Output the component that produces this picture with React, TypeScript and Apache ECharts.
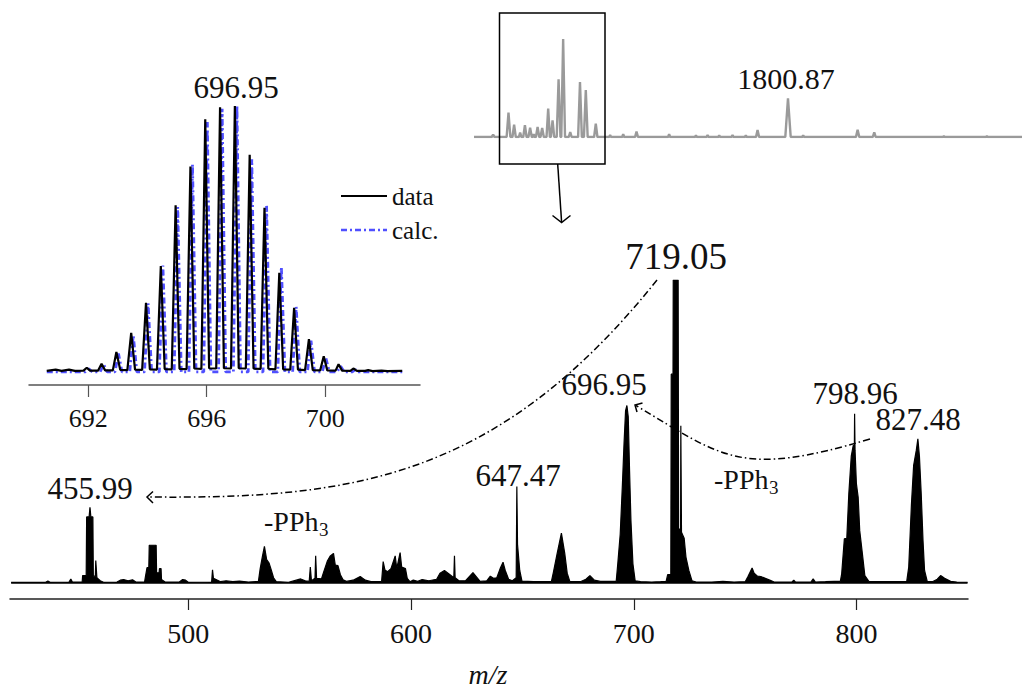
import React, { useEffect, useRef } from "react";
import * as echarts from "echarts";

// ---------- data ----------
const mainTicks = [500, 600, 700, 800];
const insetTicks = [692, 696, 700];

// main spectrum outline [m/z, relative intensity %]
const mainSpectrum: [number, number][] = [
  [420.5, 0.5], [436, 0.5], [437, 0.9], [438, 0.5], [446.5, 0.6], [447.3, 1.6], [448, 0.6],
  [452.4, 0.6], [452.6, 2.7], [454.2, 2.7], [454.4, 22], [455.5, 22], [455.9, 25.2], [456.3, 22], [457.2, 22], [457.4, 2.5], [458.3, 2.5], [458.5, 7.7], [458.8, 7.7], [459, 2], [460.5, 1], [462, 0.5],
  [468, 0.6], [469.5, 1.2], [471, 1.4], [473, 1], [475, 1.3], [476.5, 0.6],
  [480.4, 0.6], [480.7, 2], [481.5, 5.3], [482.3, 5.3], [482.5, 12.7], [485.6, 12.7], [485.8, 3.6], [486.9, 3.6], [487.1, 5], [487.8, 5], [488, 1.4], [489.6, 0.6],
  [496, 0.6], [497.5, 1.4], [498.8, 1.2], [500, 0.5],
  [510.5, 0.6], [510.9, 4.6], [511.3, 1.8], [513, 1.2], [514.5, 0.7], [517, 1], [520, 0.7], [523, 0.9], [527, 0.6],
  [531.5, 0.8], [532.3, 5], [533.3, 9], [534.2, 12.3], [535.2, 8], [536.3, 6.8], [537.3, 4.5], [538.3, 2], [539.5, 0.7],
  [545, 0.5], [548.5, 1.2], [550.5, 1.6], [552.5, 1], [554.3, 0.8], [554.8, 5.5], [555.3, 1], [556.9, 1.8], [557.2, 9.2], [557.6, 1.8],
  [559.8, 1.6], [560.7, 3.7], [562.5, 7.6], [563.8, 9.2], [565.2, 10], [566, 6.2], [567.2, 6], [568.3, 3], [569.5, 1.3], [571, 0.8],
  [574, 1.2], [577.2, 2.4], [579.5, 1.2], [582, 0.7],
  [586.8, 0.8], [587.5, 7.3], [588.3, 4.5], [589.5, 4], [591, 5], [592.9, 9.2], [593.6, 5], [595.1, 10.3], [595.8, 5.5], [597.5, 5], [598.3, 1.8], [599.5, 0.7],
  [601, 1.2], [603, 0.8], [605, 1.4], [608, 1], [611.5, 1.5], [613, 3.5], [615, 4.4], [617.5, 3], [619.2, 2], [619.5, 9.2], [619.8, 2], [621.5, 1],
  [624.5, 1], [627.8, 3.7], [631, 0.8], [634, 1], [635.6, 2.5], [637, 1.8], [638.5, 2], [640, 5], [641.3, 7.1], [642.3, 4.4], [643.8, 1.5], [645.5, 1],
  [647.2, 2], [647.5, 32], [647.8, 13], [648.8, 4.4], [649.8, 0.9], [655, 0.7], [660, 0.7], [663, 0.7],
  [663.9, 3.8], [665.6, 10], [667.5, 16.7], [669, 10], [670.1, 3.5], [671.3, 0.7], [676, 0.7], [678.5, 1.5], [680.3, 2.7], [682.3, 1.2], [685, 0.8], [688, 0.8],
  [692.1, 0.8], [692.8, 6.6], [693.9, 16.4], [694.9, 33], [695.6, 46], [696.3, 57], [696.9, 58.7], [697.5, 55], [698.1, 37], [698.7, 21], [699.6, 6.6], [700.6, 1],
  [703, 0.7], [708, 0.6], [712, 0.7], [714.5, 0.8], [715.2, 3], [716.6, 3], [716.8, 69], [717.6, 69], [717.7, 100], [719.9, 100], [720.1, 18], [721, 18], [721.1, 52], [721.3, 52], [721.4, 17], [722.6, 15], [723.4, 8.8], [724.7, 4.4], [726.1, 1],
  [728, 0.6], [735, 0.6], [740, 0.8], [745, 0.6], [750, 0.7], [751.3, 2.5], [753.1, 5.2], [754, 3.5], [755.5, 2.5], [757, 2.4], [759, 1.8], [761, 1.2], [763, 0.6],
  [771, 0.6], [771.8, 1.2], [772.5, 0.6], [779.5, 0.6], [780.5, 1.6], [781.5, 0.6], [786, 0.7], [790, 0.8],
  [792.7, 0.8], [793.3, 3.3], [794.5, 14.8], [795.6, 15], [796.5, 29.6], [797.6, 42], [798.5, 45.6], [799, 45.6], [799.1, 56], [799.3, 44], [799.9, 33], [800.7, 28.5], [801.4, 17.5], [802.6, 9.9], [803.7, 2.7], [805.5, 0.8],
  [815, 0.7], [822.5, 0.8], [823.4, 5.5], [824.6, 26], [825.6, 39], [826.8, 44], [827.5, 47.7], [828.2, 42], [829, 29.6], [829.8, 14.3], [830.5, 4.4], [831.7, 0.8], [834, 0.7], [836.2, 1.5], [837.7, 2.7], [839.5, 1.8], [842.2, 0.8], [845, 0.6], [849.8, 0.5],
];

// isotope pattern of 696.95, measured
const isoData: [number, number][] = [
  [690.6, 0.4], [690.9, 0.9], [691.1, 0.4], [691.35, 0.9], [691.55, 0.4],
  [691.84, 0.5], [691.95, 1.6], [692.06, 0.5],
  [692.33, 0.5], [692.45, 3.1], [692.57, 0.6],
  [692.83, 0.6], [692.95, 7.5], [693.08, 0.8],
  [693.32, 0.7], [693.45, 14.7], [693.58, 0.9],
  [693.82, 0.8], [693.95, 26], [694.08, 1.0],
  [694.32, 0.9], [694.45, 39.8], [694.58, 1.1],
  [694.82, 1.0], [694.95, 62.7], [695.08, 1.2],
  [695.32, 1.1], [695.45, 77.2], [695.58, 1.3],
  [695.82, 1.2], [695.95, 95], [696.08, 1.4],
  [696.32, 1.3], [696.45, 99.5], [696.58, 1.4],
  [696.82, 1.3], [696.95, 100], [697.08, 1.4],
  [697.32, 1.3], [697.45, 81.7], [697.58, 1.3],
  [697.82, 1.2], [697.95, 61.7], [698.08, 1.2],
  [698.32, 1.0], [698.45, 37.3], [698.58, 1.0],
  [698.82, 0.9], [698.95, 24.1], [699.08, 0.9],
  [699.32, 0.7], [699.45, 12.3], [699.58, 0.7],
  [699.83, 0.6], [699.95, 5.9], [700.07, 0.6],
  [700.35, 0.5], [700.45, 2.9], [700.57, 0.5],
  [700.85, 0.4], [700.95, 1.3], [701.07, 0.4],
  [701.35, 0.4], [701.45, 0.7], [701.6, 0.3],
  [701.9, 0.5], [702.1, 0.3], [702.6, 0.4],
];

// isotope pattern, calculated
const isoCalc: [number, number][] = [
  [690.6, 0], [691.9, 0], [692.02, 1.2], [692.14, 0],
  [692.4, 0], [692.52, 2.8], [692.64, 0],
  [692.9, 0], [693.02, 6.9], [693.14, 0],
  [693.4, 0], [693.52, 13.8], [693.64, 0],
  [693.9, 0], [694.02, 25.8], [694.14, 0],
  [694.4, 0], [694.52, 40], [694.64, 0],
  [694.9, 0], [695.02, 62], [695.14, 0],
  [695.4, 0], [695.52, 78], [695.64, 0],
  [695.9, 0], [696.02, 94], [696.14, 0],
  [696.4, 0], [696.52, 99], [696.64, 0],
  [696.9, 0], [697.02, 100], [697.14, 0],
  [697.4, 0], [697.52, 80], [697.64, 0],
  [697.9, 0], [698.02, 62.5], [698.14, 0],
  [698.4, 0], [698.52, 39.5], [698.64, 0],
  [698.9, 0], [699.02, 24.5], [699.14, 0],
  [699.4, 0], [699.52, 11.8], [699.64, 0],
  [699.9, 0], [700.02, 5.3], [700.14, 0],
  [700.4, 0], [700.52, 2.2], [700.64, 0],
  [700.9, 0], [701.02, 0.9], [701.14, 0],
  [702.6, 0],
];

// full-range overview spectrum (grey)
const overview: [number, number][] = [
  [290, 0], [375, 0], [382, 2.4], [389, 0],
  [447, 0], [456, 25], [465, 0],
  [475, 0], [483, 12.7], [491, 0],
  [506, 0], [512, 4.5], [518, 0],
  [527, 0], [535, 12], [543, 0],
  [552, 0], [560, 9.6], [568, 0],
  [572, 0], [577, 3], [582, 0],
  [588, 0], [596, 10.3], [604, 0],
  [610, 0], [618, 9.2], [626, 0],
  [639, 0], [647, 29], [655, 0],
  [660, 0], [668, 17], [676, 0],
  [688, 0], [697, 59], [706, 0],
  [710, 0], [719, 100], [728, 0],
  [746, 0], [753, 5], [760, 0],
  [791, 0], [800, 56], [809, 0],
  [819, 0], [828, 48], [837, 0],
  [868, 0], [876, 13.7], [884, 0],
  [940, 0], [945, 2], [950, 0],
  [1003, 0], [1008, 3], [1013, 0],
  [1065, 0], [1072, 5.5], [1079, 0],
  [1224, 0], [1229, 3], [1234, 0],
  [1353, 0], [1358, 1.5], [1363, 0],
  [1409, 0], [1414, 2], [1419, 0],
  [1465, 0], [1470, 1.5], [1475, 0],
  [1529, 0], [1534, 2], [1539, 0],
  [1593, 0], [1598, 1.5], [1603, 0],
  [1647, 0], [1654.5, 7], [1662, 0],
  [1788, 0], [1800.9, 39.4], [1814, 0],
  [1869, 0], [1874, 1.7], [1879, 0],
  [2128, 0], [2136, 7.5], [2144, 0],
  [2209, 0], [2216, 4.8], [2223, 0],
  [2546, 0], [2551, 0.8], [2556, 0],
  [2753, 0], [2758, 0.8], [2763, 0],
  [2927, 0],
];

// ---------- component ----------
const FONT = '"Liberation Serif", "DejaVu Serif", serif';
const DASHDOT = [7, 3, 1.5, 3];

function txt(text: string, x: number, y: number, size: number, align = "center", extra: any = {}) {
  return {
    type: "text",
    x,
    y,
    z: 100,
    style: {
      text,
      fontSize: size,
      fontFamily: FONT,
      fill: "#111",
      align,
      verticalAlign: "middle",
      textAlign: align,
      textVerticalAlign: "middle",
      ...extra,
    },
  };
}

export default function App() {
  const ref = useRef<HTMLDivElement>(null);

  useEffect(() => {
    if (!ref.current) return;
    const chart = echarts.init(ref.current, undefined, { renderer: "svg" });

    const option: any = {
      animation: false,
      backgroundColor: "#fff",
      grid: [
        { left: 10, right: 57, top: 280, bottom: 93 },
        { left: 29, right: 605, top: 106, bottom: 307 },
        { left: 474, right: 3, top: 39, bottom: 555 },
      ],
      xAxis: [
        {
          gridIndex: 0,
          type: "value",
          min: 420,
          max: 850,
          axisLine: { show: true, onZero: false, lineStyle: { color: "#222", width: 1.5 } },
          axisTick: { show: true, customValues: mainTicks, length: 11, lineStyle: { color: "#222", width: 1.2 } },
          axisLabel: {
            customValues: mainTicks,
            margin: 20,
            fontFamily: FONT,
            fontSize: 28,
            color: "#111",
          },
          splitLine: { show: false },
        },
        {
          gridIndex: 1,
          type: "value",
          min: 690,
          max: 703.2,
          axisLine: { show: true, onZero: false, lineStyle: { color: "#555", width: 1.5 } },
          axisTick: { show: true, customValues: insetTicks, length: 12, lineStyle: { color: "#555", width: 1.2 } },
          axisLabel: {
            customValues: insetTicks,
            margin: 20,
            fontFamily: FONT,
            fontSize: 26,
            color: "#111",
          },
          splitLine: { show: false },
        },
        {
          gridIndex: 2,
          type: "value",
          min: 290,
          max: 2927,
          show: false,
        },
      ],
      yAxis: [
        { gridIndex: 0, type: "value", min: -5, max: 100, show: false },
        { gridIndex: 1, type: "value", min: -4.9, max: 100, show: false },
        { gridIndex: 2, type: "value", min: 0, max: 100, show: false },
      ],
      series: [
        {
          name: "spectrum",
          type: "line",
          xAxisIndex: 0,
          yAxisIndex: 0,
          data: mainSpectrum,
          symbol: "none",
          lineStyle: { color: "#000", width: 1.2 },
          areaStyle: { color: "#000", opacity: 1 },
          z: 3,
        },
        {
          name: "calc.",
          type: "line",
          xAxisIndex: 1,
          yAxisIndex: 1,
          data: isoCalc,
          symbol: "none",
          lineStyle: { color: "#3030ff", width: 2.8, type: [6, 3, 2, 3], opacity: 0.85 },
          z: 2,
        },
        {
          name: "data",
          type: "line",
          xAxisIndex: 1,
          yAxisIndex: 1,
          data: isoData,
          symbol: "none",
          lineStyle: { color: "#000", width: 2.2 },
          z: 4,
        },
        {
          name: "overview",
          type: "line",
          xAxisIndex: 2,
          yAxisIndex: 2,
          data: overview,
          symbol: "none",
          lineStyle: { color: "#9a9a9a", width: 2.4 },
          z: 2,
        },
      ],
      graphic: [
        // inset legend
        { type: "line", shape: { x1: 341, y1: 196, x2: 387, y2: 196 }, style: { stroke: "#000", lineWidth: 2.2 } },
        txt("data", 392, 196, 25, "left"),
        { type: "line", shape: { x1: 341, y1: 230, x2: 387, y2: 230 }, style: { stroke: "#3030ff", lineWidth: 2.4, lineDash: [6, 3, 2, 3], opacity: 0.85 } },
        txt("calc.", 392, 230, 25, "left"),
        txt("696.95", 236, 87, 31),
        // overview annotations
        txt("1800.87", 786, 78, 30),
        { type: "rect", shape: { x: 499.5, y: 13, width: 105.5, height: 151 }, style: { stroke: "#000", fill: null, lineWidth: 1.5 }, z: 50 },
        { type: "line", shape: { x1: 557.7, y1: 164, x2: 561.6, y2: 222 }, style: { stroke: "#000", lineWidth: 1.5 }, z: 50 },
        { type: "polyline", shape: { points: [[552.5, 215.5], [561.6, 222.5], [570.5, 215.5]] }, style: { stroke: "#000", lineWidth: 1.5, fill: null }, z: 50 },
        // main peak labels
        txt("719.05", 676, 256, 37),
        txt("696.95", 604, 384, 31),
        txt("798.96", 855, 393, 31),
        txt("827.48", 918, 419, 31),
        txt("647.47", 518, 475, 31),
        txt("455.99", 90, 488, 31),
        txt("-PPh", 264, 521, 28, "left"),
        txt("3", 319, 529, 19, "left"),
        txt("-PPh", 714, 479, 28, "left"),
        txt("3", 769, 487, 19, "left"),
        // dash-dot arrows
        {
          type: "bezierCurve",
          shape: { x1: 657, y1: 280, cpx1: 497, cpy1: 480, cpx2: 350, cpy2: 499, x2: 149, y2: 497 },
          style: { stroke: "#000", lineWidth: 1.5, lineDash: DASHDOT, fill: null },
          z: 50,
        },
        { type: "polyline", shape: { points: [[153, 491.5], [147, 497], [153, 503]] }, style: { stroke: "#000", lineWidth: 1.5, fill: null }, z: 50 },
        {
          type: "bezierCurve",
          shape: { x1: 870, y1: 439, cpx1: 740.5, cpy1: 477.5, cpx2: 724.5, cpy2: 458.5, x2: 636, y2: 405.5 },
          style: { stroke: "#000", lineWidth: 1.5, lineDash: DASHDOT, fill: null },
          z: 50,
        },
        { type: "polyline", shape: { points: [[642.5, 403], [635, 405], [637, 412]] }, style: { stroke: "#000", lineWidth: 1.5, fill: null }, z: 50 },
        // axis title
        txt("m/z", 488, 674, 28, "center", { fontStyle: "italic" }),
      ],
    };

    chart.setOption(option);
    return () => chart.dispose();
  }, []);

  return (
    <div
      ref={ref}
      style={{ position: "fixed", left: 0, top: 0, width: 1025, height: 692, background: "#fff" }}
    />
  );
}
